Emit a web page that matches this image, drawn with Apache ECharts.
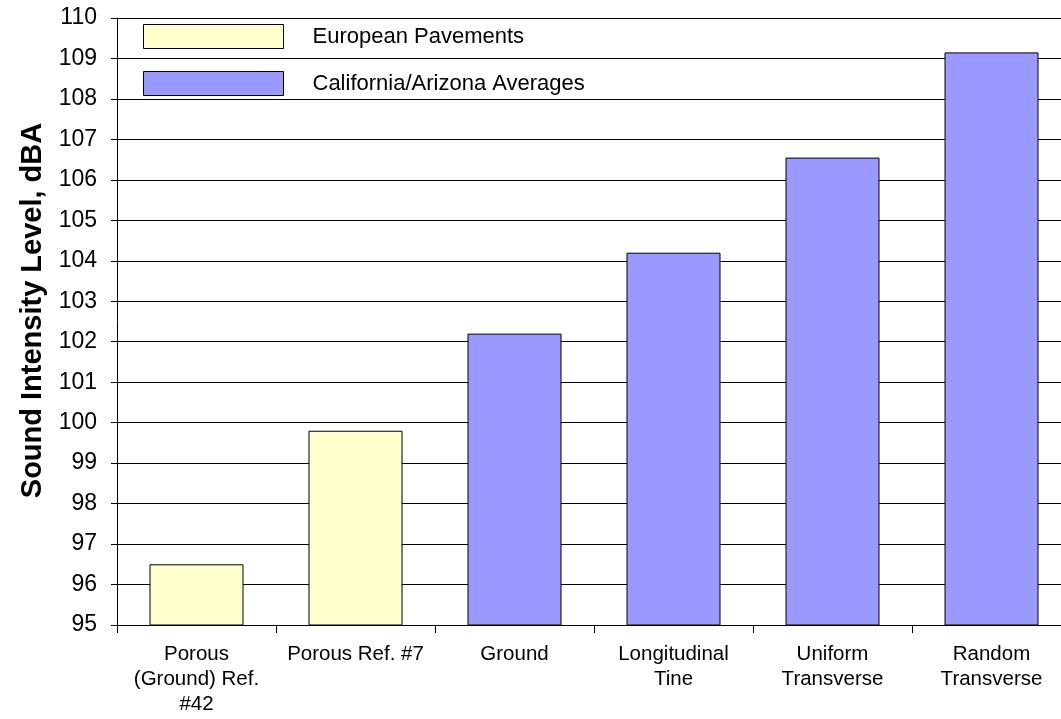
<!DOCTYPE html>
<html>
<head>
<meta charset="utf-8">
<script src="https://cdn.jsdelivr.net/npm/echarts@6/dist/echarts.min.js"></script>
<style>
  html, body { margin: 0; padding: 0; background: #fff; overflow: hidden; }
  /* a bit wider than the window: the plot runs past the right edge like the original */
  #chart { width: 1071px; height: 719px; }
</style>
</head>
<body>
<div id="chart"></div>
<script>
// chart data
const categories = [
  'Porous\n(Ground) Ref.\n#42',
  'Porous Ref. #7',
  'Ground',
  'Longitudinal\nTine',
  'Uniform\nTransverse',
  'Random\nTransverse'
];
const europeanValues = [96.5, 99.8, '-', '-', '-', '-'];
const californiaValues = ['-', '-', 102.2, 104.2, 106.55, 109.15];
const seriesNames = ['European Pavements', 'California/Arizona Averages'];
const yMin = 95;
const yMax = 110;

const font = 'Liberation Sans, Arial, sans-serif';
const chart = echarts.init(document.getElementById('chart'));

chart.setOption({
  animation: false,
  grid: { left: 117, top: 18, bottom: 94, right: 0, containLabel: false },
  legend: {
    data: seriesNames,
    orient: 'vertical',
    left: 143,
    top: 24,
    itemWidth: 140,
    itemHeight: 24,
    itemGap: 22,
    padding: 0,
    icon: 'rect',
    itemStyle: { borderColor: '#000', borderWidth: 1 },
    textStyle: { fontFamily: font, fontSize: 22, color: '#000', padding: [0, 0, 0, 24] }
  },
  xAxis: {
    type: 'category',
    data: categories,
    axisLine: { lineStyle: { color: '#000', width: 1 } },
    axisTick: { show: true, length: 8, lineStyle: { color: '#000' } },
    axisLabel: {
      interval: 0,
      margin: 17,
      fontFamily: font,
      fontSize: 20.5,
      lineHeight: 25,
      color: '#000'
    }
  },
  yAxis: {
    type: 'value',
    min: yMin,
    max: yMax,
    interval: 1,
    name: 'Sound Intensity Level, dBA',
    nameLocation: 'middle',
    nameGap: 70,
    nameTextStyle: {
      fontFamily: font,
      fontSize: 29,
      fontWeight: 'bold',
      color: '#000',
      padding: [0, 0, 0, 22]
    },
    axisLine: { show: true, lineStyle: { color: '#000', width: 1 } },
    axisTick: { show: true, inside: false, length: 6, lineStyle: { color: '#000' } },
    axisLabel: { margin: 20, fontFamily: font, fontSize: 23, color: '#000' },
    splitLine: { show: true, lineStyle: { color: '#000', width: 1 } }
  },
  series: [
    {
      name: seriesNames[0],
      type: 'bar',
      data: europeanValues,
      barWidth: 94,
      barGap: '-100%',
      itemStyle: { color: '#FFFFCC', borderColor: '#000', borderWidth: 1 }
    },
    {
      name: seriesNames[1],
      type: 'bar',
      data: californiaValues,
      barWidth: 94,
      barGap: '-100%',
      itemStyle: { color: '#9999FF', borderColor: '#000', borderWidth: 1 }
    }
  ]
});
</script>
</body>
</html>
